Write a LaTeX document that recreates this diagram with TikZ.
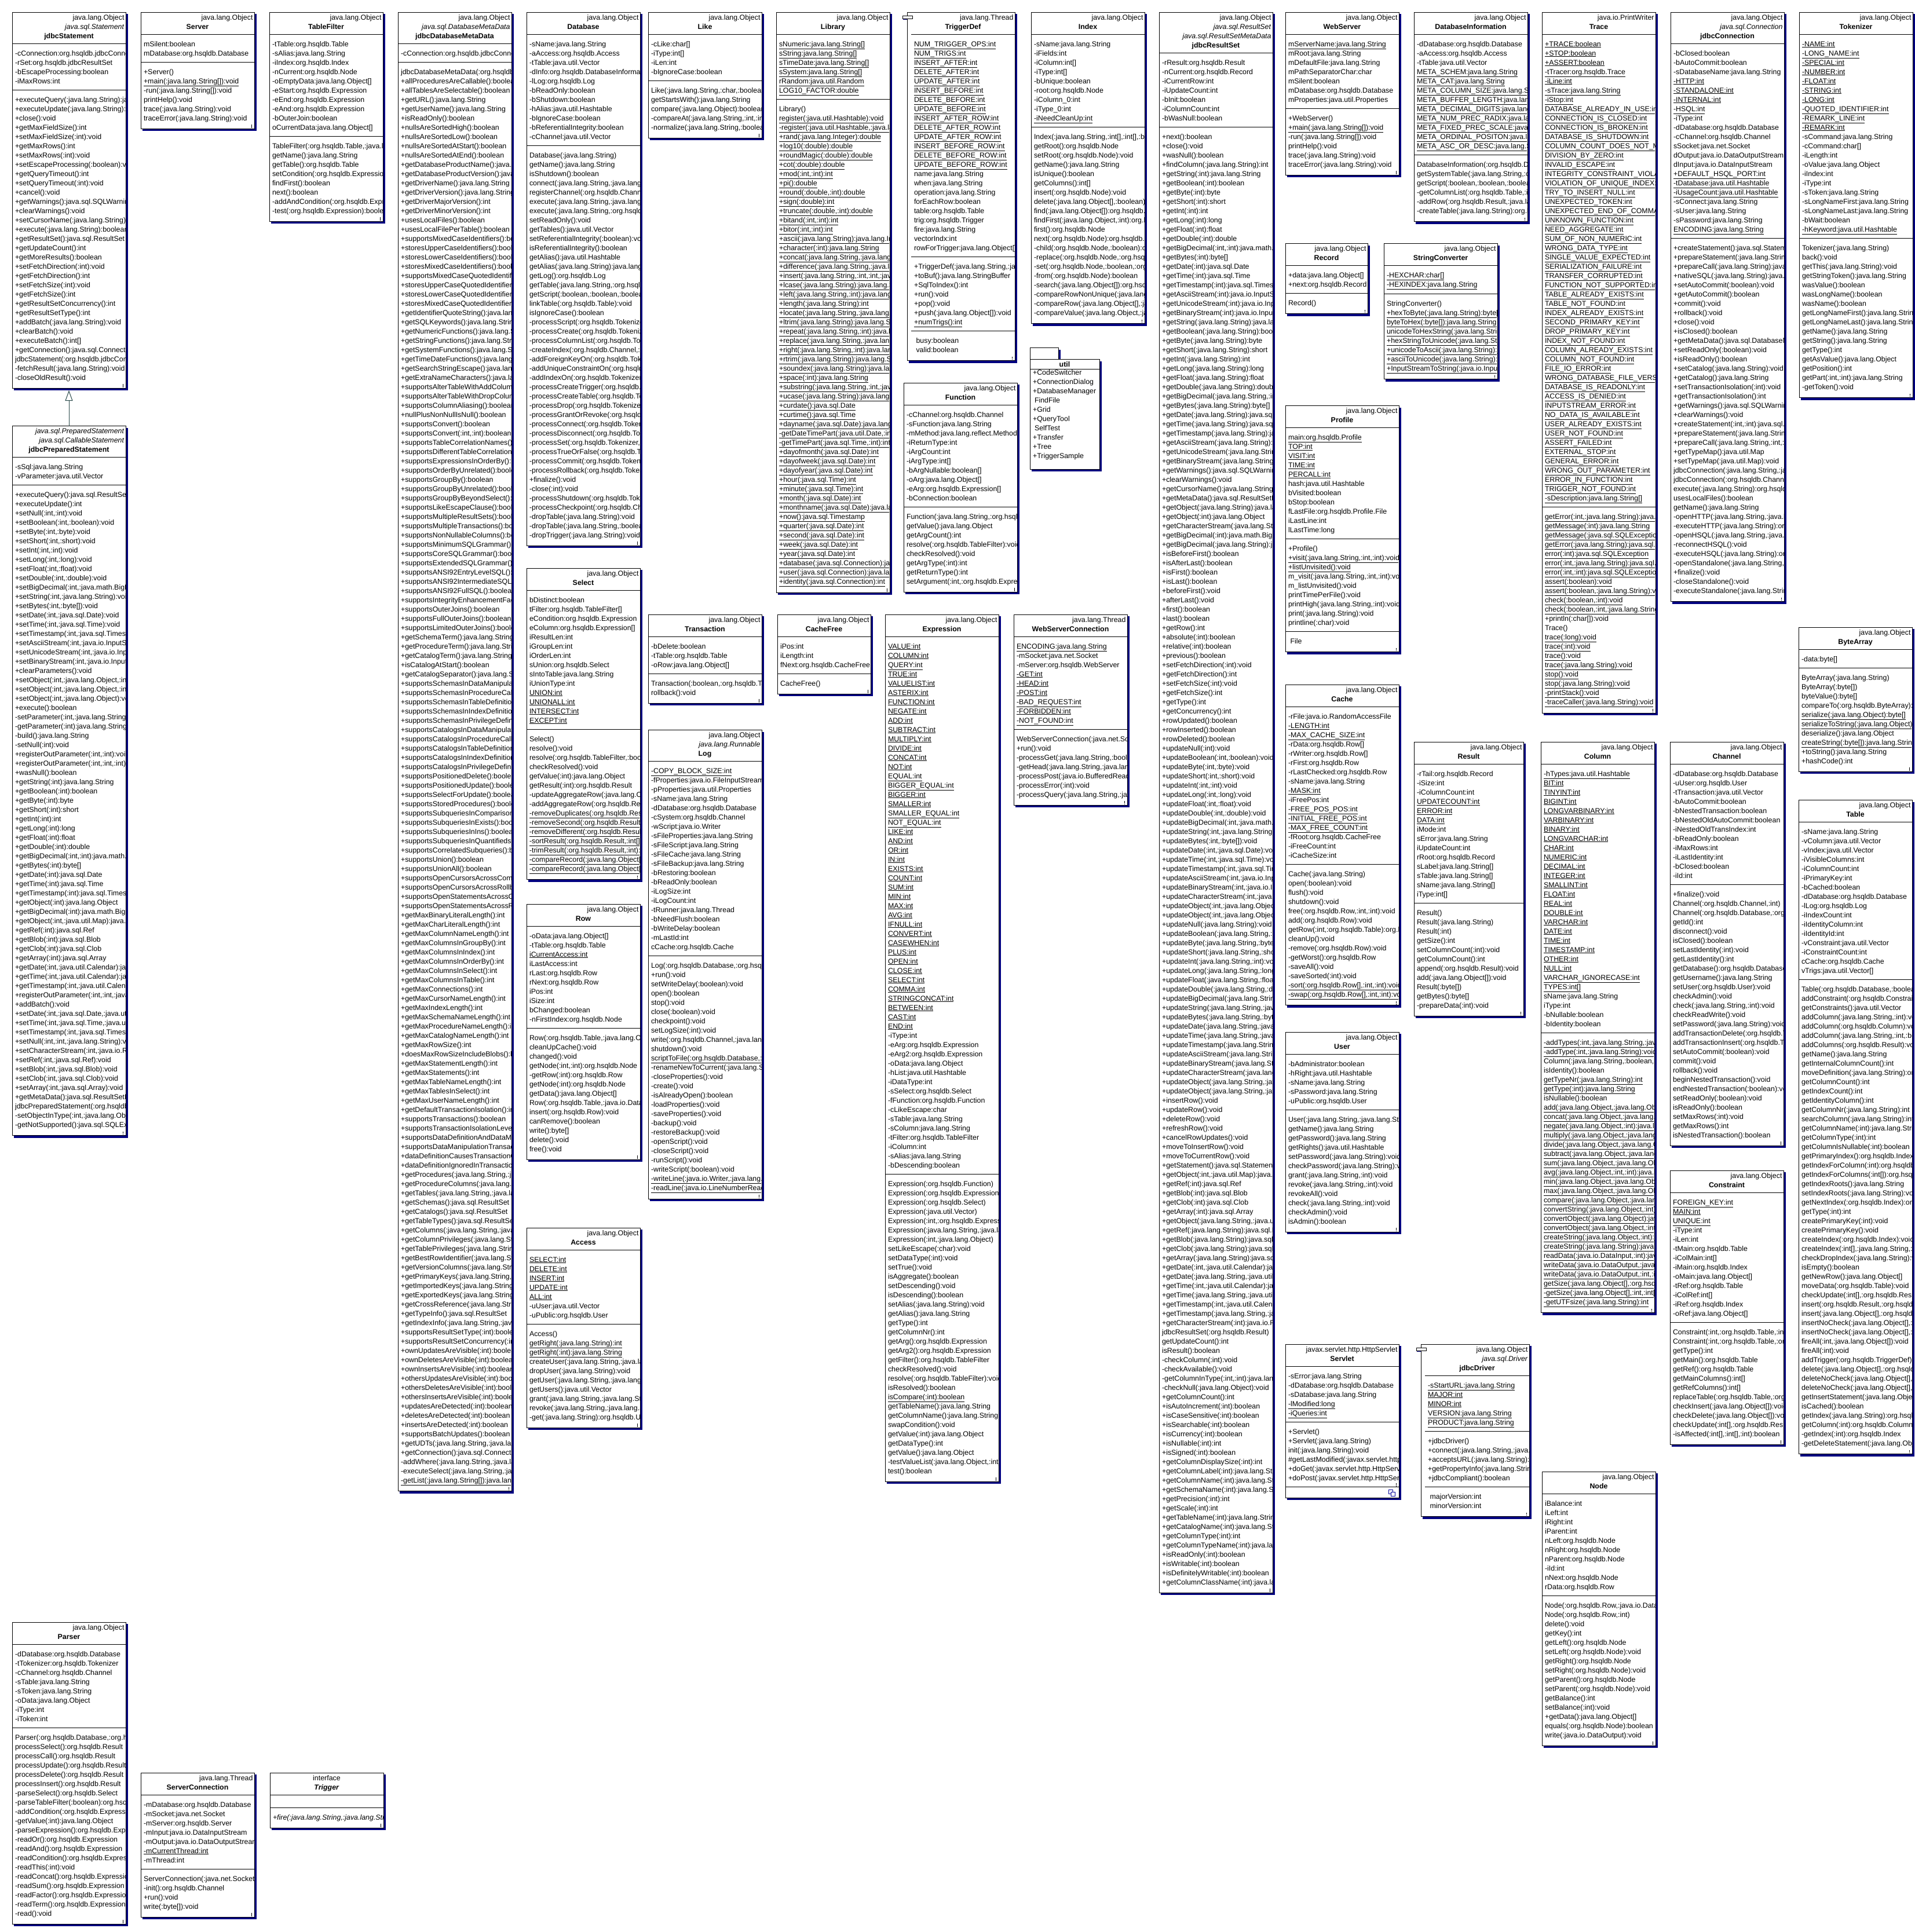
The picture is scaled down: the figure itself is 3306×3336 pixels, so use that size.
\documentclass[tikz,border=0pt]{standalone}
\usepackage{fontspec}
\setmainfont{Liberation Sans}[Ligatures={NoCommon}]
\usetikzlibrary{fit,arrows.meta}
\definecolor{shadowc}{RGB}{0,0,128}
\definecolor{arrowc}{RGB}{40,72,72}
\newcommand\ST{\rule[-4pt]{0pt}{16pt}}
\newcommand\Un[1]{\underline{#1}}
\newcommand\hR[1]{\makebox[\hsize][r]{#1}}
\newcommand\hC[1]{\makebox[\hsize][c]{#1}}
\newcommand\hB[1]{\makebox[\hsize][c]{\textbf{#1}}}
\newcommand\SepIn{0}
\newif\ifbang
\bangtrue
\tikzset{
  txt/.style={inner sep=0pt, outer sep=0pt, align=left, anchor=north west,
    font={\fontsize{12.4}{16}\selectfont\parindent=0pt\lineskiplimit=-100pt\relax},
    execute at begin node=\ST, execute at end node=\ST},
  frame/.style={draw, line width=1pt, inner sep=0pt, outer sep=0pt},
  sepline/.style={line width=1pt},
}
\newcommand\ucls[5]{%
  \xdef\cname{#1}\xdef\cx{#2}\xdef\cy{#3}\xdef\cw{#4}%
  \coordinate (#1-L) at (#2,#3);
  \coordinate (#1-R) at ({#2+#4},#3);
  \pgfmathsetmacro\hw{#4-\SepIn-5}%
  \path (#1-L) ++({(#4+\SepIn)/2},1) node[txt, anchor=north, text width=\hw pt] (#1-hd) {#5};
  \path (#1-hd.south) ++(0,-2) coordinate (#1-cur);
}
\newcommand\msec[1]{%
  \draw[sepline] (\cname-L |- \cname-cur) ++(\SepIn,7) -- ++({\cw-\SepIn},0);
  \begin{scope}
    \clip (\cname-L) ++(0,-60) rectangle ++({\cw-1},3500);
    \path (\cname-L |- \cname-cur) ++({\SepIn+5},16) node[txt, text width=1500pt] (\cname-tmp) {#1};
  \end{scope}
  \path (\cname-tmp.south) coordinate (\cname-cur);
}
\newcommand\msecE[1]{%
  \draw[sepline] (\cname-L |- \cname-cur) ++(\SepIn,7) -- ++({\cw-\SepIn},0);
  \path (\cname-cur) ++(0,#1) coordinate (\cname-cur);
}
\newcommand\cfin{%
  \path (\cname-cur) ++(0,10) coordinate (\cname-B);
  \coordinate (\cname-BR) at (\cname-R |- \cname-B);
  \node[frame, fit=(\cname-L)(\cname-BR)] (\cname) {};
  \fill[shadowc] ([xshift=0.5pt,yshift=-3pt]\cname.north east) rectangle ([xshift=4pt,yshift=-4pt]\cname.south east);
  \fill[shadowc] ([xshift=3pt,yshift=-0.5pt]\cname.south west) rectangle ([xshift=4pt,yshift=-4pt]\cname.south east);
  \ifbang
  \fill ([xshift=-5.5pt,yshift=3.5pt]\cname.south east) rectangle ([xshift=-4pt,yshift=7pt]\cname.south east);
  \fill ([xshift=-5.5pt,yshift=1.3pt]\cname.south east) rectangle ([xshift=-4pt,yshift=2.6pt]\cname.south east);
  \fi
}
\newcommand\acticon[1]{%
  \fill[shadowc] ([xshift=-7pt,yshift=-11pt]#1.north west) rectangle ([xshift=0pt,yshift=-12.5pt]#1.north west);
  \draw[line width=1pt, fill=white] ([xshift=-8pt,yshift=-6pt]#1.north west) rectangle ([xshift=9pt,yshift=-11pt]#1.north west);
}
\begin{document}
\begin{tikzpicture}[x=1pt,y=-1pt]
\useasboundingbox[fill=white] (0,0) rectangle (3306,3336);

% ---------------- column 1
\ucls{jdbcStatement}{21}{21}{196}{\hR{java.lang.Object}\\\hR{\textit{java.sql.Statement}}\\\hB{jdbcStatement}}
\msec{-cConnection:org.hsqldb.jdbcConnection\\-rSet:org.hsqldb.jdbcResultSet\\-bEscapeProcessing:boolean\\-iMaxRows:int}
\msec{+executeQuery(:java.lang.String):java.sql.ResultSet\\+executeUpdate(:java.lang.String):int\\+close():void\\+getMaxFieldSize():int\\+setMaxFieldSize(:int):void\\+getMaxRows():int\\+setMaxRows(:int):void\\+setEscapeProcessing(:boolean):void\\+getQueryTimeout():int\\+setQueryTimeout(:int):void\\+cancel():void\\+getWarnings():java.sql.SQLWarning\\+clearWarnings():void\\+setCursorName(:java.lang.String):void\\+execute(:java.lang.String):boolean\\+getResultSet():java.sql.ResultSet\\+getUpdateCount():int\\+getMoreResults():boolean\\+setFetchDirection(:int):void\\+getFetchDirection():int\\+setFetchSize(:int):void\\+getFetchSize():int\\+getResultSetConcurrency():int\\+getResultSetType():int\\+addBatch(:java.lang.String):void\\+clearBatch():void\\+executeBatch():int[]\\+getConnection():java.sql.Connection\\jdbcStatement(:org.hsqldb.jdbcConnection)\\-fetchResult(:java.lang.String):void\\-closeOldResult():void}
\cfin

\ucls{jdbcPreparedStatement}{21}{735.5}{196}{\hR{\textit{java.sql.PreparedStatement}}\\\hR{\textit{java.sql.CallableStatement}}\\\hB{jdbcPreparedStatement}}
\msec{-sSql:java.lang.String\\-vParameter:java.util.Vector}
\msec{+executeQuery():java.sql.ResultSet\\+executeUpdate():int\\+setNull(:int,:int):void\\+setBoolean(:int,:boolean):void\\+setByte(:int,:byte):void\\+setShort(:int,:short):void\\+setInt(:int,:int):void\\+setLong(:int,:long):void\\+setFloat(:int,:float):void\\+setDouble(:int,:double):void\\+setBigDecimal(:int,:java.math.BigDecimal):void\\+setString(:int,:java.lang.String):void\\+setBytes(:int,:byte[]):void\\+setDate(:int,:java.sql.Date):void\\+setTime(:int,:java.sql.Time):void\\+setTimestamp(:int,:java.sql.Timestamp):void\\+setAsciiStream(:int,:java.io.InputStream,:int):void\\+setUnicodeStream(:int,:java.io.InputStream,:int):void\\+setBinaryStream(:int,:java.io.InputStream,:int):void\\+clearParameters():void\\+setObject(:int,:java.lang.Object,:int,:int):void\\+setObject(:int,:java.lang.Object,:int):void\\+setObject(:int,:java.lang.Object):void\\+execute():boolean\\-setParameter(:int,:java.lang.String):void\\-getParameter(:int):java.lang.String\\-build():java.lang.String\\-setNull(:int):void\\+registerOutParameter(:int,:int):void\\+registerOutParameter(:int,:int,:int):void\\+wasNull():boolean\\+getString(:int):java.lang.String\\+getBoolean(:int):boolean\\+getByte(:int):byte\\+getShort(:int):short\\+getInt(:int):int\\+getLong(:int):long\\+getFloat(:int):float\\+getDouble(:int):double\\+getBigDecimal(:int,:int):java.math.BigDecimal\\+getBytes(:int):byte[]\\+getDate(:int):java.sql.Date\\+getTime(:int):java.sql.Time\\+getTimestamp(:int):java.sql.Timestamp\\+getObject(:int):java.lang.Object\\+getBigDecimal(:int):java.math.BigDecimal\\+getObject(:int,:java.util.Map):java.lang.Object\\+getRef(:int):java.sql.Ref\\+getBlob(:int):java.sql.Blob\\+getClob(:int):java.sql.Clob\\+getArray(:int):java.sql.Array\\+getDate(:int,:java.util.Calendar):java.sql.Date\\+getTime(:int,:java.util.Calendar):java.sql.Time\\+getTimestamp(:int,:java.util.Calendar):java.sql.Timestamp\\+registerOutParameter(:int,:int,:java.lang.String):void\\+addBatch():void\\+setDate(:int,:java.sql.Date,:java.util.Calendar):void\\+setTime(:int,:java.sql.Time,:java.util.Calendar):void\\+setTimestamp(:int,:java.sql.Timestamp,:java.util.Calendar):void\\+setNull(:int,:int,:java.lang.String):void\\+setCharacterStream(:int,:java.io.Reader,:int):void\\+setRef(:int,:java.sql.Ref):void\\+setBlob(:int,:java.sql.Blob):void\\+setClob(:int,:java.sql.Clob):void\\+setArray(:int,:java.sql.Array):void\\+getMetaData():java.sql.ResultSetMetaData\\jdbcPreparedStatement(:org.hsqldb.jdbcConnection,:java.lang.String)\\-setObjectInType(:int,:java.lang.Object,:int):void\\-getNotSupported():java.sql.SQLException}
\cfin

\draw[arrowc, line width=1pt, -{Triangle[open, length=18pt, width=13pt]}] (jdbcPreparedStatement.north) -- ([yshift=-4pt]jdbcStatement.south);

\ucls{Parser}{21}{2801}{196}{\hR{java.lang.Object}\\\hB{Parser}}
\msec{-dDatabase:org.hsqldb.Database\\-tTokenizer:org.hsqldb.Tokenizer\\-cChannel:org.hsqldb.Channel\\-sTable:java.lang.String\\-sToken:java.lang.String\\-oData:java.lang.Object\\-iType:int\\-iToken:int}
\msec{Parser(:org.hsqldb.Database,:org.hsqldb.Tokenizer,:org.hsqldb.Channel)\\processSelect():org.hsqldb.Result\\processCall():org.hsqldb.Result\\processUpdate():org.hsqldb.Result\\processDelete():org.hsqldb.Result\\processInsert():org.hsqldb.Result\\-parseSelect():org.hsqldb.Select\\-parseTableFilter(:boolean):org.hsqldb.TableFilter\\-addCondition(:org.hsqldb.Expression,:org.hsqldb.Expression)\\-getValue(:int):java.lang.Object\\-parseExpression():org.hsqldb.Expression\\-readOr():org.hsqldb.Expression\\-readAnd():org.hsqldb.Expression\\-readCondition():org.hsqldb.Expression\\-readThis(:int):void\\-readConcat():org.hsqldb.Expression\\-readSum():org.hsqldb.Expression\\-readFactor():org.hsqldb.Expression\\-readTerm():org.hsqldb.Expression\\-read():void}
\cfin

% ---------------- column 2
\ucls{Server}{243}{21}{196}{\hR{java.lang.Object}\\\hB{Server}}
\msec{mSilent:boolean\\mDatabase:org.hsqldb.Database}
\msec{+Server()\\\Un{+main(:java.lang.String[]):void}\\-run(:java.lang.String[]):void\\printHelp():void\\trace(:java.lang.String):void\\traceError(:java.lang.String):void}
\cfin

\ucls{ServerConnection}{243}{3061}{196}{\hR{java.lang.Thread}\\\hB{ServerConnection}}
\msec{-mDatabase:org.hsqldb.Database\\-mSocket:java.net.Socket\\-mServer:org.hsqldb.Server\\-mInput:java.io.DataInputStream\\-mOutput:java.io.DataOutputStream\\\Un{-mCurrentThread:int}\\-mThread:int}
\msec{ServerConnection(:java.net.Socket,:org.hsqldb.Server)\\-init():org.hsqldb.Channel\\+run():void\\write(:byte[]):void}
\cfin

% ---------------- column 3
\ucls{TableFilter}{465}{21}{196}{\hR{java.lang.Object}\\\hB{TableFilter}}
\msec{-tTable:org.hsqldb.Table\\-sAlias:java.lang.String\\-iIndex:org.hsqldb.Index\\-nCurrent:org.hsqldb.Node\\-oEmptyData:java.lang.Object[]\\-eStart:org.hsqldb.Expression\\-eEnd:org.hsqldb.Expression\\-eAnd:org.hsqldb.Expression\\-bOuterJoin:boolean\\oCurrentData:java.lang.Object[]}
\msec{TableFilter(:org.hsqldb.Table,:java.lang.String,:boolean)\\getName():java.lang.String\\getTable():org.hsqldb.Table\\setCondition(:org.hsqldb.Expression):void\\findFirst():boolean\\next():boolean\\-addAndCondition(:org.hsqldb.Expression):void\\-test(:org.hsqldb.Expression):boolean}
\cfin

\ucls{Trigger}{466}{3061}{196}{\hC{interface}\\\hC{\textbf{\textit{Trigger}}}}
\msecE{22}
\msec{\textit{+fire(:java.lang.String,:java.lang.String,:java.lang.Object[]):void}}
\cfin

% ---------------- column 4
\ucls{jdbcDatabaseMetaData}{687}{21}{196}{\hR{java.lang.Object}\\\hR{\textit{java.sql.DatabaseMetaData}}\\\hB{jdbcDatabaseMetaData}}
\msec{-cConnection:org.hsqldb.jdbcConnection}
\msec{jdbcDatabaseMetaData(:org.hsqldb.jdbcConnection)\\+allProceduresAreCallable():boolean\\+allTablesAreSelectable():boolean\\+getURL():java.lang.String\\+getUserName():java.lang.String\\+isReadOnly():boolean\\+nullsAreSortedHigh():boolean\\+nullsAreSortedLow():boolean\\+nullsAreSortedAtStart():boolean\\+nullsAreSortedAtEnd():boolean\\+getDatabaseProductName():java.lang.String\\+getDatabaseProductVersion():java.lang.String\\+getDriverName():java.lang.String\\+getDriverVersion():java.lang.String\\+getDriverMajorVersion():int\\+getDriverMinorVersion():int\\+usesLocalFiles():boolean\\+usesLocalFilePerTable():boolean\\+supportsMixedCaseIdentifiers():boolean\\+storesUpperCaseIdentifiers():boolean\\+storesLowerCaseIdentifiers():boolean\\+storesMixedCaseIdentifiers():boolean\\+supportsMixedCaseQuotedIdentifiers():boolean\\+storesUpperCaseQuotedIdentifiers():boolean\\+storesLowerCaseQuotedIdentifiers():boolean\\+storesMixedCaseQuotedIdentifiers():boolean\\+getIdentifierQuoteString():java.lang.String\\+getSQLKeywords():java.lang.String\\+getNumericFunctions():java.lang.String\\+getStringFunctions():java.lang.String\\+getSystemFunctions():java.lang.String\\+getTimeDateFunctions():java.lang.String\\+getSearchStringEscape():java.lang.String\\+getExtraNameCharacters():java.lang.String\\+supportsAlterTableWithAddColumn():boolean\\+supportsAlterTableWithDropColumn():boolean\\+supportsColumnAliasing():boolean\\+nullPlusNonNullIsNull():boolean\\+supportsConvert():boolean\\+supportsConvert(:int,:int):boolean\\+supportsTableCorrelationNames():boolean\\+supportsDifferentTableCorrelationNames():boolean\\+supportsExpressionsInOrderBy():boolean\\+supportsOrderByUnrelated():boolean\\+supportsGroupBy():boolean\\+supportsGroupByUnrelated():boolean\\+supportsGroupByBeyondSelect():boolean\\+supportsLikeEscapeClause():boolean\\+supportsMultipleResultSets():boolean\\+supportsMultipleTransactions():boolean\\+supportsNonNullableColumns():boolean\\+supportsMinimumSQLGrammar():boolean\\+supportsCoreSQLGrammar():boolean\\+supportsExtendedSQLGrammar():boolean\\+supportsANSI92EntryLevelSQL():boolean\\+supportsANSI92IntermediateSQL():boolean\\+supportsANSI92FullSQL():boolean\\+supportsIntegrityEnhancementFacility():boolean\\+supportsOuterJoins():boolean\\+supportsFullOuterJoins():boolean\\+supportsLimitedOuterJoins():boolean\\+getSchemaTerm():java.lang.String\\+getProcedureTerm():java.lang.String\\+getCatalogTerm():java.lang.String\\+isCatalogAtStart():boolean\\+getCatalogSeparator():java.lang.String\\+supportsSchemasInDataManipulation():boolean\\+supportsSchemasInProcedureCalls():boolean\\+supportsSchemasInTableDefinitions():boolean\\+supportsSchemasInIndexDefinitions():boolean\\+supportsSchemasInPrivilegeDefinitions():boolean\\+supportsCatalogsInDataManipulation():boolean\\+supportsCatalogsInProcedureCalls():boolean\\+supportsCatalogsInTableDefinitions():boolean\\+supportsCatalogsInIndexDefinitions():boolean\\+supportsCatalogsInPrivilegeDefinitions():boolean\\+supportsPositionedDelete():boolean\\+supportsPositionedUpdate():boolean\\+supportsSelectForUpdate():boolean\\+supportsStoredProcedures():boolean\\+supportsSubqueriesInComparisons():boolean\\+supportsSubqueriesInExists():boolean\\+supportsSubqueriesInIns():boolean\\+supportsSubqueriesInQuantifieds():boolean\\+supportsCorrelatedSubqueries():boolean\\+supportsUnion():boolean\\+supportsUnionAll():boolean\\+supportsOpenCursorsAcrossCommit():boolean\\+supportsOpenCursorsAcrossRollback():boolean\\+supportsOpenStatementsAcrossCommit():boolean\\+supportsOpenStatementsAcrossRollback():boolean\\+getMaxBinaryLiteralLength():int\\+getMaxCharLiteralLength():int\\+getMaxColumnNameLength():int\\+getMaxColumnsInGroupBy():int\\+getMaxColumnsInIndex():int\\+getMaxColumnsInOrderBy():int\\+getMaxColumnsInSelect():int\\+getMaxColumnsInTable():int\\+getMaxConnections():int\\+getMaxCursorNameLength():int\\+getMaxIndexLength():int\\+getMaxSchemaNameLength():int\\+getMaxProcedureNameLength():int\\+getMaxCatalogNameLength():int\\+getMaxRowSize():int\\+doesMaxRowSizeIncludeBlobs():boolean\\+getMaxStatementLength():int\\+getMaxStatements():int\\+getMaxTableNameLength():int\\+getMaxTablesInSelect():int\\+getMaxUserNameLength():int\\+getDefaultTransactionIsolation():int\\+supportsTransactions():boolean\\+supportsTransactionIsolationLevel(:int):boolean\\+supportsDataDefinitionAndDataManipulationTransactions():boolean\\+supportsDataManipulationTransactionsOnly():boolean\\+dataDefinitionCausesTransactionCommit():boolean\\+dataDefinitionIgnoredInTransactions():boolean\\+getProcedures(:java.lang.String,:java.lang.String,:java.lang.String)\\+getProcedureColumns(:java.lang.String,:java.lang.String)\\+getTables(:java.lang.String,:java.lang.String)\\+getSchemas():java.sql.ResultSet\\+getCatalogs():java.sql.ResultSet\\+getTableTypes():java.sql.ResultSet\\+getColumns(:java.lang.String,:java.lang.String)\\+getColumnPrivileges(:java.lang.String,:java.lang.String)\\+getTablePrivileges(:java.lang.String,:java.lang.String)\\+getBestRowIdentifier(:java.lang.String,:java.lang.String)\\+getVersionColumns(:java.lang.String,:java.lang.String)\\+getPrimaryKeys(:java.lang.String,:java.lang.String)\\+getImportedKeys(:java.lang.String,:java.lang.String)\\+getExportedKeys(:java.lang.String,:java.lang.String)\\+getCrossReference(:java.lang.String,:java.lang.String)\\+getTypeInfo():java.sql.ResultSet\\+getIndexInfo(:java.lang.String,:java.lang.String)\\+supportsResultSetType(:int):boolean\\+supportsResultSetConcurrency(:int,:int):boolean\\+ownUpdatesAreVisible(:int):boolean\\+ownDeletesAreVisible(:int):boolean\\+ownInsertsAreVisible(:int):boolean\\+othersUpdatesAreVisible(:int):boolean\\+othersDeletesAreVisible(:int):boolean\\+othersInsertsAreVisible(:int):boolean\\+updatesAreDetected(:int):boolean\\+deletesAreDetected(:int):boolean\\+insertsAreDetected(:int):boolean\\+supportsBatchUpdates():boolean\\+getUDTs(:java.lang.String,:java.lang.String)\\+getConnection():java.sql.Connection\\-addWhere(:java.lang.String,:java.lang.String)\\-executeSelect(:java.lang.String,:java.lang.String)\\\Un{-getList(:java.lang.String[]):java.lang.String}}
\cfin

% ---------------- column 5
\ucls{Database}{909}{21}{196}{\hR{java.lang.Object}\\\hB{Database}}
\msec{-sName:java.lang.String\\-aAccess:org.hsqldb.Access\\-tTable:java.util.Vector\\-dInfo:org.hsqldb.DatabaseInformation\\-lLog:org.hsqldb.Log\\-bReadOnly:boolean\\-bShutdown:boolean\\-hAlias:java.util.Hashtable\\-bIgnoreCase:boolean\\-bReferentialIntegrity:boolean\\-cChannel:java.util.Vector}
\msec{Database(:java.lang.String)\\getName():java.lang.String\\isShutdown():boolean\\connect(:java.lang.String,:java.lang.String)\\registerChannel(:org.hsqldb.Channel):int\\execute(:java.lang.String,:java.lang.String)\\execute(:java.lang.String,:org.hsqldb.Channel)\\setReadOnly():void\\getTables():java.util.Vector\\setReferentialIntegrity(:boolean):void\\isReferentialIntegrity():boolean\\getAlias():java.util.Hashtable\\getAlias(:java.lang.String):java.lang.String\\getLog():org.hsqldb.Log\\getTable(:java.lang.String,:org.hsqldb.Channel)\\getScript(:boolean,:boolean,:boolean)\\linkTable(:org.hsqldb.Table):void\\isIgnoreCase():boolean\\-processScript(:org.hsqldb.Tokenizer)\\-processCreate(:org.hsqldb.Tokenizer)\\-processColumnList(:org.hsqldb.Tokenizer)\\-createIndex(:org.hsqldb.Channel,:org.hsqldb)\\-addForeignKeyOn(:org.hsqldb.Tokenizer)\\-addUniqueConstraintOn(:org.hsqldb.Tokenizer)\\-addIndexOn(:org.hsqldb.Tokenizer)\\-processCreateTrigger(:org.hsqldb.Tokenizer)\\-processCreateTable(:org.hsqldb.Tokenizer)\\-processDrop(:org.hsqldb.Tokenizer)\\-processGrantOrRevoke(:org.hsqldb.Tokenizer)\\-processConnect(:org.hsqldb.Tokenizer)\\-processDisconnect(:org.hsqldb.Tokenizer)\\-processSet(:org.hsqldb.Tokenizer,:org.hsqldb)\\-processTrueOrFalse(:org.hsqldb.Tokenizer)\\-processCommit(:org.hsqldb.Tokenizer)\\-processRollback(:org.hsqldb.Tokenizer)\\+finalize():void\\-close(:int):void\\-processShutdown(:org.hsqldb.Tokenizer)\\-processCheckpoint(:org.hsqldb.Channel)\\-dropTable(:java.lang.String):void\\-dropTable(:java.lang.String,:boolean):void\\-dropTrigger(:java.lang.String):void}
\cfin

\ucls{Select}{909}{981}{196}{\hR{java.lang.Object}\\\hB{Select}}
\msec{bDistinct:boolean\\tFilter:org.hsqldb.TableFilter[]\\eCondition:org.hsqldb.Expression\\eColumn:org.hsqldb.Expression[]\\iResultLen:int\\iGroupLen:int\\iOrderLen:int\\sUnion:org.hsqldb.Select\\sIntoTable:java.lang.String\\iUnionType:int\\\Un{UNION:int}\\\Un{UNIONALL:int}\\\Un{INTERSECT:int}\\\Un{EXCEPT:int}}
\msec{Select()\\resolve():void\\resolve(:org.hsqldb.TableFilter,:boolean):void\\checkResolved():void\\getValue(:int):java.lang.Object\\getResult(:int):org.hsqldb.Result\\-updateAggregateRow(:java.lang.Object[],:java.lang.Object[])\\-addAggregateRow(:org.hsqldb.Result,:java.lang.Object[])\\\Un{-removeDuplicates(:org.hsqldb.Result):void}\\\Un{-removeSecond(:org.hsqldb.Result,:org.hsqldb.Result)}\\\Un{-removeDifferent(:org.hsqldb.Result,:org.hsqldb.Result)}\\\Un{-sortResult(:org.hsqldb.Result,:int[],:int[])}\\\Un{-trimResult(:org.hsqldb.Result,:int):void}\\\Un{-compareRecord(:java.lang.Object[],:java.lang.Object[])}\\\Un{-compareRecord(:java.lang.Object[],:java.lang.Object[])}}
\cfin

\ucls{Row}{909}{1561}{196}{\hR{java.lang.Object}\\\hB{Row}}
\msec{-oData:java.lang.Object[]\\-tTable:org.hsqldb.Table\\\Un{iCurrentAccess:int}\\iLastAccess:int\\rLast:org.hsqldb.Row\\rNext:org.hsqldb.Row\\iPos:int\\iSize:int\\bChanged:boolean\\-nFirstIndex:org.hsqldb.Node}
\msec{Row(:org.hsqldb.Table,:java.lang.Object[])\\cleanUpCache():void\\changed():void\\getNode(:int,:int):org.hsqldb.Node\\-getRow(:int):org.hsqldb.Row\\getNode(:int):org.hsqldb.Node\\getData():java.lang.Object[]\\Row(:org.hsqldb.Table,:java.io.DataInput)\\insert(:org.hsqldb.Row):void\\canRemove():boolean\\write():byte[]\\delete():void\\free():void}
\cfin

\ucls{Access}{909}{2120}{196}{\hR{java.lang.Object}\\\hB{Access}}
\msec{\Un{SELECT:int}\\\Un{DELETE:int}\\\Un{INSERT:int}\\\Un{UPDATE:int}\\\Un{ALL:int}\\-uUser:java.util.Vector\\-uPublic:org.hsqldb.User}
\msec{Access()\\\Un{getRight(:java.lang.String):int}\\\Un{getRight(:int):java.lang.String}\\createUser(:java.lang.String,:java.lang.String,:boolean)\\dropUser(:java.lang.String):void\\getUser(:java.lang.String,:java.lang.String)\\getUsers():java.util.Vector\\grant(:java.lang.String,:java.lang.String,:int)\\revoke(:java.lang.String,:java.lang.String,:int)\\-get(:java.lang.String):org.hsqldb.User}
\cfin

% ---------------- column 6
\ucls{Like}{1119}{21}{196}{\hR{java.lang.Object}\\\hB{Like}}
\msec{-cLike:char[]\\-iType:int[]\\-iLen:int\\-bIgnoreCase:boolean}
\msec{Like(:java.lang.String,:char,:boolean)\\getStartsWith():java.lang.String\\compare(:java.lang.Object):boolean\\-compareAt(:java.lang.String,:int,:int):boolean\\-normalize(:java.lang.String,:boolean):java.lang.String}
\cfin

\ucls{Transaction}{1119}{1061}{196}{\hR{java.lang.Object}\\\hB{Transaction}}
\msec{-bDelete:boolean\\-tTable:org.hsqldb.Table\\-oRow:java.lang.Object[]}
\msec{Transaction(:boolean,:org.hsqldb.Table,:java.lang.Object[])\\rollback():void}
\cfin

\ucls{Log}{1119}{1260.6}{196}{\hR{java.lang.Object}\\\hR{\textit{java.lang.Runnable}}\\\hB{Log}}
\msec{\Un{-COPY\_BLOCK\_SIZE:int}\\-fProperties:java.io.FileInputStream\\-pProperties:java.util.Properties\\-sName:java.lang.String\\-dDatabase:org.hsqldb.Database\\-cSystem:org.hsqldb.Channel\\-wScript:java.io.Writer\\-sFileProperties:java.lang.String\\-sFileScript:java.lang.String\\-sFileCache:java.lang.String\\-sFileBackup:java.lang.String\\-bRestoring:boolean\\-bReadOnly:boolean\\-iLogSize:int\\-iLogCount:int\\-tRunner:java.lang.Thread\\-bNeedFlush:boolean\\-bWriteDelay:boolean\\-mLastId:int\\cCache:org.hsqldb.Cache}
\msec{Log(:org.hsqldb.Database,:org.hsqldb.Channel)\\+run():void\\setWriteDelay(:boolean):void\\open():boolean\\stop():void\\close(:boolean):void\\checkpoint():void\\setLogSize(:int):void\\write(:org.hsqldb.Channel,:java.lang.String):void\\shutdown():void\\\Un{scriptToFile(:org.hsqldb.Database,:java.lang.String)}\\-renameNewToCurrent(:java.lang.String):void\\-closeProperties():void\\-create():void\\-isAlreadyOpen():boolean\\-loadProperties():void\\-saveProperties():void\\-backup():void\\-restoreBackup():void\\-openScript():void\\-closeScript():void\\-runScript():void\\-writeScript(:boolean):void\\\Un{-writeLine(:java.io.Writer,:java.lang.String):void}\\\Un{-readLine(:java.io.LineNumberReader):java.lang.String}}
\cfin

% ---------------- column 7
\ucls{Library}{1340}{21}{196}{\hR{java.lang.Object}\\\hB{Library}}
\msec{\Un{sNumeric:java.lang.String[]}\\\Un{sString:java.lang.String[]}\\\Un{sTimeDate:java.lang.String[]}\\\Un{sSystem:java.lang.String[]}\\\Un{rRandom:java.util.Random}\\\Un{LOG10\_FACTOR:double}}
\msec{Library()\\\Un{register(:java.util.Hashtable):void}\\\Un{-register(:java.util.Hashtable,:java.lang.String[]):void}\\\Un{+rand(:java.lang.Integer):double}\\\Un{+log10(:double):double}\\\Un{+roundMagic(:double):double}\\\Un{+cot(:double):double}\\\Un{+mod(:int,:int):int}\\\Un{+pi():double}\\\Un{+round(:double,:int):double}\\\Un{+sign(:double):int}\\\Un{+truncate(:double,:int):double}\\\Un{+bitand(:int,:int):int}\\\Un{+bitor(:int,:int):int}\\\Un{+ascii(:java.lang.String):java.lang.Integer}\\\Un{+character(:int):java.lang.String}\\\Un{+concat(:java.lang.String,:java.lang.String):java.lang.String}\\\Un{+difference(:java.lang.String,:java.lang.String):int}\\\Un{+insert(:java.lang.String,:int,:int,:java.lang.String)}\\\Un{+lcase(:java.lang.String):java.lang.String}\\\Un{+left(:java.lang.String,:int):java.lang.String}\\\Un{+length(:java.lang.String):int}\\\Un{+locate(:java.lang.String,:java.lang.String,:int)}\\\Un{+ltrim(:java.lang.String):java.lang.String}\\\Un{+repeat(:java.lang.String,:int):java.lang.String}\\\Un{+replace(:java.lang.String,:java.lang.String,:java.lang.String)}\\\Un{+right(:java.lang.String,:int):java.lang.String}\\\Un{+rtrim(:java.lang.String):java.lang.String}\\\Un{+soundex(:java.lang.String):java.lang.String}\\\Un{+space(:int):java.lang.String}\\\Un{+substring(:java.lang.String,:int,:java.lang.Integer)}\\\Un{+ucase(:java.lang.String):java.lang.String}\\\Un{+curdate():java.sql.Date}\\\Un{+curtime():java.sql.Time}\\\Un{+dayname(:java.sql.Date):java.lang.String}\\\Un{-getDateTimePart(:java.util.Date,:int):int}\\\Un{-getTimePart(:java.sql.Time,:int):int}\\\Un{+dayofmonth(:java.sql.Date):int}\\\Un{+dayofweek(:java.sql.Date):int}\\\Un{+dayofyear(:java.sql.Date):int}\\\Un{+hour(:java.sql.Time):int}\\\Un{+minute(:java.sql.Time):int}\\\Un{+month(:java.sql.Date):int}\\\Un{+monthname(:java.sql.Date):java.lang.String}\\\Un{+now():java.sql.Timestamp}\\\Un{+quarter(:java.sql.Date):int}\\\Un{+second(:java.sql.Date):int}\\\Un{+week(:java.sql.Date):int}\\\Un{+year(:java.sql.Date):int}\\\Un{+database(:java.sql.Connection):java.lang.String}\\\Un{+user(:java.sql.Connection):java.lang.String}\\\Un{+identity(:java.sql.Connection):int}}
\cfin

\ucls{CacheFree}{1342}{1061}{161}{\hR{java.lang.Object}\\\hB{CacheFree}}
\msec{iPos:int\\iLength:int\\fNext:org.hsqldb.CacheFree}
\msec{CacheFree()}
\cfin

% ---------------- column 8
\renewcommand\SepIn{7}
\ucls{TriggerDef}{1566}{21}{186}{\hR{java.lang.Thread}\\\hB{TriggerDef}}
\msec{\Un{NUM\_TRIGGER\_OPS:int}\\\Un{NUM\_TRIGS:int}\\\Un{INSERT\_AFTER:int}\\\Un{DELETE\_AFTER:int}\\\Un{UPDATE\_AFTER:int}\\\Un{INSERT\_BEFORE:int}\\\Un{DELETE\_BEFORE:int}\\\Un{UPDATE\_BEFORE:int}\\\Un{INSERT\_AFTER\_ROW:int}\\\Un{DELETE\_AFTER\_ROW:int}\\\Un{UPDATE\_AFTER\_ROW:int}\\\Un{INSERT\_BEFORE\_ROW:int}\\\Un{DELETE\_BEFORE\_ROW:int}\\\Un{UPDATE\_BEFORE\_ROW:int}\\name:java.lang.String\\when:java.lang.String\\operation:java.lang.String\\forEachRow:boolean\\table:org.hsqldb.Table\\trig:org.hsqldb.Trigger\\fire:java.lang.String\\vectorIndx:int\\rowForTrigger:java.lang.Object[]}
\msec{+TriggerDef(:java.lang.String,:java.lang.String)\\+toBuf():java.lang.StringBuffer\\+SqlToIndex():int\\+run():void\\+pop():void\\+push(:java.lang.Object[]):void\\\Un{+numTrigs():int}}
\msec{\hspace*{3.5pt}busy:boolean\\\hspace*{3.5pt}valid:boolean}
\cfin
\acticon{TriggerDef}
\renewcommand\SepIn{0}

\ucls{Function}{1560}{661}{196}{\hR{java.lang.Object}\\\hB{Function}}
\msec{-cChannel:org.hsqldb.Channel\\-sFunction:java.lang.String\\-mMethod:java.lang.reflect.Method\\-iReturnType:int\\-iArgCount:int\\-iArgType:int[]\\-bArgNullable:boolean[]\\-oArg:java.lang.Object[]\\-eArg:org.hsqldb.Expression[]\\-bConnection:boolean}
\msec{Function(:java.lang.String,:org.hsqldb.Channel)\\getValue():java.lang.Object\\getArgCount():int\\resolve(:org.hsqldb.TableFilter):void\\checkResolved():void\\getArgType(:int):int\\getReturnType():int\\setArgument(:int,:org.hsqldb.Expression):void}
\cfin

\ucls{Expression}{1528}{1061}{196}{\hR{java.lang.Object}\\\hB{Expression}}
\msec{\Un{VALUE:int}\\\Un{COLUMN:int}\\\Un{QUERY:int}\\\Un{TRUE:int}\\\Un{VALUELIST:int}\\\Un{ASTERIX:int}\\\Un{FUNCTION:int}\\\Un{NEGATE:int}\\\Un{ADD:int}\\\Un{SUBTRACT:int}\\\Un{MULTIPLY:int}\\\Un{DIVIDE:int}\\\Un{CONCAT:int}\\\Un{NOT:int}\\\Un{EQUAL:int}\\\Un{BIGGER\_EQUAL:int}\\\Un{BIGGER:int}\\\Un{SMALLER:int}\\\Un{SMALLER\_EQUAL:int}\\\Un{NOT\_EQUAL:int}\\\Un{LIKE:int}\\\Un{AND:int}\\\Un{OR:int}\\\Un{IN:int}\\\Un{EXISTS:int}\\\Un{COUNT:int}\\\Un{SUM:int}\\\Un{MIN:int}\\\Un{MAX:int}\\\Un{AVG:int}\\\Un{IFNULL:int}\\\Un{CONVERT:int}\\\Un{CASEWHEN:int}\\\Un{PLUS:int}\\\Un{OPEN:int}\\\Un{CLOSE:int}\\\Un{SELECT:int}\\\Un{COMMA:int}\\\Un{STRINGCONCAT:int}\\\Un{BETWEEN:int}\\\Un{CAST:int}\\\Un{END:int}\\-iType:int\\-eArg:org.hsqldb.Expression\\-eArg2:org.hsqldb.Expression\\-oData:java.lang.Object\\-hList:java.util.Hashtable\\-iDataType:int\\-sSelect:org.hsqldb.Select\\-fFunction:org.hsqldb.Function\\-cLikeEscape:char\\-sTable:java.lang.String\\-sColumn:java.lang.String\\-tFilter:org.hsqldb.TableFilter\\-iColumn:int\\-sAlias:java.lang.String\\-bDescending:boolean}
\msec{Expression(:org.hsqldb.Function)\\Expression(:org.hsqldb.Expression)\\Expression(:org.hsqldb.Select)\\Expression(:java.util.Vector)\\Expression(:int,:org.hsqldb.Expression,:org.hsqldb.Expression)\\Expression(:java.lang.String,:java.lang.String)\\Expression(:int,:java.lang.Object)\\setLikeEscape(:char):void\\setDataType(:int):void\\setTrue():void\\isAggregate():boolean\\setDescending():void\\isDescending():boolean\\setAlias(:java.lang.String):void\\getAlias():java.lang.String\\getType():int\\getColumnNr():int\\getArg():org.hsqldb.Expression\\getArg2():org.hsqldb.Expression\\getFilter():org.hsqldb.TableFilter\\checkResolved():void\\resolve(:org.hsqldb.TableFilter):void\\isResolved():boolean\\\Un{isCompare(:int):boolean}\\getTableName():java.lang.String\\getColumnName():java.lang.String\\swapCondition():void\\getValue(:int):java.lang.Object\\getDataType():int\\getValue():java.lang.Object\\-testValueList(:java.lang.Object,:int):boolean\\test():boolean}
\cfin

% ---------------- column 9
\ucls{Index}{1780}{21}{196}{\hR{java.lang.Object}\\\hB{Index}}
\msec{-sName:java.lang.String\\-iFields:int\\-iColumn:int[]\\-iType:int[]\\-bUnique:boolean\\-root:org.hsqldb.Node\\-iColumn\_0:int\\-iType\_0:int\\\Un{-iNeedCleanUp:int}}
\msec{Index(:java.lang.String,:int[],:int[],:boolean)\\getRoot():org.hsqldb.Node\\setRoot(:org.hsqldb.Node):void\\getName():java.lang.String\\isUnique():boolean\\getColumns():int[]\\insert(:org.hsqldb.Node):void\\delete(:java.lang.Object[],:boolean):void\\find(:java.lang.Object[]):org.hsqldb.Node\\findFirst(:java.lang.Object,:int):org.hsqldb.Node\\first():org.hsqldb.Node\\next(:org.hsqldb.Node):org.hsqldb.Node\\-child(:org.hsqldb.Node,:boolean):org.hsqldb.Node\\-replace(:org.hsqldb.Node,:org.hsqldb.Node):void\\-set(:org.hsqldb.Node,:boolean,:org.hsqldb.Node)\\-from(:org.hsqldb.Node):boolean\\-search(:java.lang.Object[]):org.hsqldb.Node\\-compareRowNonUnique(:java.lang.Object[],:java.lang.Object[])\\-compareRow(:java.lang.Object[],:java.lang.Object[]):int\\-compareValue(:java.lang.Object,:java.lang.Object):int}
\cfin

% util package
\node[frame, fill=white, minimum width=49pt, minimum height=20pt, anchor=south west] (util-tab) at (1778,620.7) {};
\fill[shadowc] ([xshift=0.5pt,yshift=-3pt]util-tab.north east) rectangle ([xshift=4pt]util-tab.south east);
\node[frame, minimum width=120pt, minimum height=189.3pt, anchor=north west] (util) at (1778,620.7) {};
\fill[shadowc] ([xshift=0.5pt,yshift=-3pt]util.north east) rectangle ([xshift=4pt,yshift=-4pt]util.south east);
\fill[shadowc] ([xshift=3pt,yshift=-0.5pt]util.south west) rectangle ([xshift=4pt,yshift=-4pt]util.south east);
\node[txt, anchor=north] (util-title) at (1838,621) {\textbf{util}};
\draw[sepline] (util.west |- util-title.south) -- (util.east |- util-title.south);
\node[txt] (util-items) at (1783,639) {+CodeSwitcher\\+ConnectionDialog\\+DatabaseManager\\\hspace*{3pt}FindFile\\+Grid\\+QueryTool\\\hspace*{3pt}SelfTest\\+Transfer\\+Tree\\+TriggerSample};

\ucls{WebServerConnection}{1750}{1061}{196}{\hR{java.lang.Thread}\\\hB{WebServerConnection}}
\msec{\Un{ENCODING:java.lang.String}\\-mSocket:java.net.Socket\\-mServer:org.hsqldb.WebServer\\\Un{-GET:int}\\\Un{-HEAD:int}\\\Un{-POST:int}\\\Un{-BAD\_REQUEST:int}\\\Un{-FORBIDDEN:int}\\\Un{-NOT\_FOUND:int}}
\msec{WebServerConnection(:java.net.Socket,:org.hsqldb.WebServer)\\+run():void\\-processGet(:java.lang.String,:boolean):void\\-getHead(:java.lang.String,:java.lang.String,:int)\\-processPost(:java.io.BufferedReader,:java.lang.String)\\-processError(:int):void\\-processQuery(:java.lang.String,:java.io.OutputStream)}
\cfin

% ---------------- column 10
\ucls{jdbcResultSet}{2001}{21}{196}{\hR{java.lang.Object}\\\hR{\textit{java.sql.ResultSet}}\\\hR{\textit{java.sql.ResultSetMetaData}}\\\hB{jdbcResultSet}}
\msec{-rResult:org.hsqldb.Result\\-nCurrent:org.hsqldb.Record\\-iCurrentRow:int\\-iUpdateCount:int\\-bInit:boolean\\-iColumnCount:int\\-bWasNull:boolean}
\msec{+next():boolean\\+close():void\\+wasNull():boolean\\+findColumn(:java.lang.String):int\\+getString(:int):java.lang.String\\+getBoolean(:int):boolean\\+getByte(:int):byte\\+getShort(:int):short\\+getInt(:int):int\\+getLong(:int):long\\+getFloat(:int):float\\+getDouble(:int):double\\+getBigDecimal(:int,:int):java.math.BigDecimal\\+getBytes(:int):byte[]\\+getDate(:int):java.sql.Date\\+getTime(:int):java.sql.Time\\+getTimestamp(:int):java.sql.Timestamp\\+getAsciiStream(:int):java.io.InputStream\\+getUnicodeStream(:int):java.io.InputStream\\+getBinaryStream(:int):java.io.InputStream\\+getString(:java.lang.String):java.lang.String\\+getBoolean(:java.lang.String):boolean\\+getByte(:java.lang.String):byte\\+getShort(:java.lang.String):short\\+getInt(:java.lang.String):int\\+getLong(:java.lang.String):long\\+getFloat(:java.lang.String):float\\+getDouble(:java.lang.String):double\\+getBigDecimal(:java.lang.String,:int)\\+getBytes(:java.lang.String):byte[]\\+getDate(:java.lang.String):java.sql.Date\\+getTime(:java.lang.String):java.sql.Time\\+getTimestamp(:java.lang.String):java.sql.Timestamp\\+getAsciiStream(:java.lang.String):java.io.InputStream\\+getUnicodeStream(:java.lang.String):java.io.InputStream\\+getBinaryStream(:java.lang.String):java.io.InputStream\\+getWarnings():java.sql.SQLWarning\\+clearWarnings():void\\+getCursorName():java.lang.String\\+getMetaData():java.sql.ResultSetMetaData\\+getObject(:java.lang.String):java.lang.Object\\+getObject(:int):java.lang.Object\\+getCharacterStream(:java.lang.String):java.io.Reader\\+getBigDecimal(:int):java.math.BigDecimal\\+getBigDecimal(:java.lang.String):java.math.BigDecimal\\+isBeforeFirst():boolean\\+isAfterLast():boolean\\+isFirst():boolean\\+isLast():boolean\\+beforeFirst():void\\+afterLast():void\\+first():boolean\\+last():boolean\\+getRow():int\\+absolute(:int):boolean\\+relative(:int):boolean\\+previous():boolean\\+setFetchDirection(:int):void\\+getFetchDirection():int\\+setFetchSize(:int):void\\+getFetchSize():int\\+getType():int\\+getConcurrency():int\\+rowUpdated():boolean\\+rowInserted():boolean\\+rowDeleted():boolean\\+updateNull(:int):void\\+updateBoolean(:int,:boolean):void\\+updateByte(:int,:byte):void\\+updateShort(:int,:short):void\\+updateInt(:int,:int):void\\+updateLong(:int,:long):void\\+updateFloat(:int,:float):void\\+updateDouble(:int,:double):void\\+updateBigDecimal(:int,:java.math.BigDecimal):void\\+updateString(:int,:java.lang.String):void\\+updateBytes(:int,:byte[]):void\\+updateDate(:int,:java.sql.Date):void\\+updateTime(:int,:java.sql.Time):void\\+updateTimestamp(:int,:java.sql.Timestamp):void\\+updateAsciiStream(:int,:java.io.InputStream,:int)\\+updateBinaryStream(:int,:java.io.InputStream,:int)\\+updateCharacterStream(:int,:java.io.Reader,:int)\\+updateObject(:int,:java.lang.Object,:int):void\\+updateObject(:int,:java.lang.Object):void\\+updateNull(:java.lang.String):void\\+updateBoolean(:java.lang.String,:boolean):void\\+updateByte(:java.lang.String,:byte):void\\+updateShort(:java.lang.String,:short):void\\+updateInt(:java.lang.String,:int):void\\+updateLong(:java.lang.String,:long):void\\+updateFloat(:java.lang.String,:float):void\\+updateDouble(:java.lang.String,:double):void\\+updateBigDecimal(:java.lang.String,:java.math.BigDecimal)\\+updateString(:java.lang.String,:java.lang.String)\\+updateBytes(:java.lang.String,:byte[]):void\\+updateDate(:java.lang.String,:java.sql.Date):void\\+updateTime(:java.lang.String,:java.sql.Time):void\\+updateTimestamp(:java.lang.String,:java.sql.Timestamp)\\+updateAsciiStream(:java.lang.String,:java.io.InputStream)\\+updateBinaryStream(:java.lang.String,:java.io.InputStream)\\+updateCharacterStream(:java.lang.String,:java.io.Reader)\\+updateObject(:java.lang.String,:java.lang.Object,:int)\\+updateObject(:java.lang.String,:java.lang.Object)\\+insertRow():void\\+updateRow():void\\+deleteRow():void\\+refreshRow():void\\+cancelRowUpdates():void\\+moveToInsertRow():void\\+moveToCurrentRow():void\\+getStatement():java.sql.Statement\\+getObject(:int,:java.util.Map):java.lang.Object\\+getRef(:int):java.sql.Ref\\+getBlob(:int):java.sql.Blob\\+getClob(:int):java.sql.Clob\\+getArray(:int):java.sql.Array\\+getObject(:java.lang.String,:java.util.Map)\\+getRef(:java.lang.String):java.sql.Ref\\+getBlob(:java.lang.String):java.sql.Blob\\+getClob(:java.lang.String):java.sql.Clob\\+getArray(:java.lang.String):java.sql.Array\\+getDate(:int,:java.util.Calendar):java.sql.Date\\+getDate(:java.lang.String,:java.util.Calendar)\\+getTime(:int,:java.util.Calendar):java.sql.Time\\+getTime(:java.lang.String,:java.util.Calendar)\\+getTimestamp(:int,:java.util.Calendar)\\+getTimestamp(:java.lang.String,:java.util.Calendar)\\+getCharacterStream(:int):java.io.Reader\\jdbcResultSet(:org.hsqldb.Result)\\getUpdateCount():int\\isResult():boolean\\-checkColumn(:int):void\\-checkAvailable():void\\-getColumnInType(:int,:int):java.lang.Object\\-checkNull(:java.lang.Object):void\\+getColumnCount():int\\+isAutoIncrement(:int):boolean\\+isCaseSensitive(:int):boolean\\+isSearchable(:int):boolean\\+isCurrency(:int):boolean\\+isNullable(:int):int\\+isSigned(:int):boolean\\+getColumnDisplaySize(:int):int\\+getColumnLabel(:int):java.lang.String\\+getColumnName(:int):java.lang.String\\+getSchemaName(:int):java.lang.String\\+getPrecision(:int):int\\+getScale(:int):int\\+getTableName(:int):java.lang.String\\+getCatalogName(:int):java.lang.String\\+getColumnType(:int):int\\+getColumnTypeName(:int):java.lang.String\\+isReadOnly(:int):boolean\\+isWritable(:int):boolean\\+isDefinitelyWritable(:int):boolean\\+getColumnClassName(:int):java.lang.String}
\cfin

% ---------------- column 11
\ucls{WebServer}{2219}{21}{196}{\hR{java.lang.Object}\\\hB{WebServer}}
\msec{\Un{mServerName:java.lang.String}\\mRoot:java.lang.String\\mDefaultFile:java.lang.String\\mPathSeparatorChar:char\\mSilent:boolean\\mDatabase:org.hsqldb.Database\\mProperties:java.util.Properties}
\msec{+WebServer()\\\Un{+main(:java.lang.String[]):void}\\-run(:java.lang.String[]):void\\printHelp():void\\trace(:java.lang.String):void\\traceError(:java.lang.String):void}
\cfin

\ucls{Record}{2219}{420.6}{142}{\hR{java.lang.Object}\\\hB{Record}}
\msec{+data:java.lang.Object[]\\+next:org.hsqldb.Record}
\msec{Record()}
\cfin

\ucls{Profile}{2219}{700.7}{196}{\hR{java.lang.Object}\\\hB{Profile}}
\msec{\Un{main:org.hsqldb.Profile}\\\Un{TOP:int}\\\Un{VISIT:int}\\\Un{TIME:int}\\\Un{PERCALL:int}\\hash:java.util.Hashtable\\bVisited:boolean\\bStop:boolean\\fLastFile:org.hsqldb.Profile.File\\iLastLine:int\\lLastTime:long}
\msec{+Profile()\\\Un{+visit(:java.lang.String,:int,:int):void}\\\Un{+listUnvisited():void}\\m\_visit(:java.lang.String,:int,:int):void\\m\_listUnvisited():void\\printTimePerFile():void\\printHigh(:java.lang.String,:int):void\\print(:java.lang.String):void\\printline(:char):void}
\msec{\hspace*{3.5pt}File}
\cfin

\ucls{Cache}{2219}{1182.4}{196}{\hR{java.lang.Object}\\\hB{Cache}}
\msec{-rFile:java.io.RandomAccessFile\\\Un{-LENGTH:int}\\\Un{-MAX\_CACHE\_SIZE:int}\\-rData:org.hsqldb.Row[]\\-rWriter:org.hsqldb.Row[]\\-rFirst:org.hsqldb.Row\\-rLastChecked:org.hsqldb.Row\\-sName:java.lang.String\\\Un{-MASK:int}\\-iFreePos:int\\\Un{-FREE\_POS\_POS:int}\\\Un{-INITIAL\_FREE\_POS:int}\\\Un{-MAX\_FREE\_COUNT:int}\\-fRoot:org.hsqldb.CacheFree\\-iFreeCount:int\\-iCacheSize:int}
\msec{Cache(:java.lang.String)\\open(:boolean):void\\flush():void\\shutdown():void\\free(:org.hsqldb.Row,:int,:int):void\\add(:org.hsqldb.Row):void\\getRow(:int,:org.hsqldb.Table):org.hsqldb.Row\\cleanUp():void\\-remove(:org.hsqldb.Row):void\\-getWorst():org.hsqldb.Row\\-saveAll():void\\-saveSorted(:int):void\\\Un{-sort(:org.hsqldb.Row[],:int,:int):void}\\\Un{-swap(:org.hsqldb.Row[],:int,:int):void}}
\cfin

\ucls{User}{2219}{1782.4}{196}{\hR{java.lang.Object}\\\hB{User}}
\msec{-bAdministrator:boolean\\-hRight:java.util.Hashtable\\-sName:java.lang.String\\-sPassword:java.lang.String\\-uPublic:org.hsqldb.User}
\msec{User(:java.lang.String,:java.lang.String,:boolean)\\getName():java.lang.String\\getPassword():java.lang.String\\getRights():java.util.Hashtable\\setPassword(:java.lang.String):void\\checkPassword(:java.lang.String):void\\grant(:java.lang.String,:int):void\\revoke(:java.lang.String,:int):void\\revokeAll():void\\check(:java.lang.String,:int):void\\checkAdmin():void\\isAdmin():boolean}
\cfin

\ucls{Servlet}{2219}{2321}{196}{\hR{javax.servlet.http.HttpServlet}\\\hB{Servlet}}
\msec{-sError:java.lang.String\\-dDatabase:org.hsqldb.Database\\-sDatabase:java.lang.String\\\Un{-lModified:long}\\\Un{-iQueries:int}}
\msec{+Servlet()\\+Servlet(:java.lang.String)\\init(:java.lang.String):void\\\#getLastModified(:javax.servlet.http.HttpServletRequest)\\+doGet(:javax.servlet.http.HttpServletRequest)\\+doPost(:javax.servlet.http.HttpServletRequest)}
\coordinate (Servlet-bang) at (Servlet-R |- Servlet-cur);
\fill ([xshift=-5.5pt,yshift=-0.5pt]Servlet-bang) rectangle ([xshift=-4pt,yshift=-4pt]Servlet-bang);
\fill ([xshift=-5.5pt,yshift=-5pt]Servlet-bang) rectangle ([xshift=-4pt,yshift=-6.3pt]Servlet-bang);
\msecE{16}
\bangfalse
\cfin
\bangtrue
\draw[line width=0.8pt, blue!60!black, fill=white] ([xshift=-18pt,yshift=14pt]Servlet.south east) rectangle ([xshift=-11pt,yshift=7pt]Servlet.south east);
\draw[line width=0.8pt, blue!60!black, fill=white] ([xshift=-14pt,yshift=10pt]Servlet.south east) rectangle ([xshift=-7pt,yshift=3pt]Servlet.south east);

% ---------------- column 12
\ucls{DatabaseInformation}{2441}{21}{196}{\hR{java.lang.Object}\\\hB{DatabaseInformation}}
\msec{-dDatabase:org.hsqldb.Database\\-aAccess:org.hsqldb.Access\\-tTable:java.util.Vector\\\Un{META\_SCHEM:java.lang.String}\\\Un{META\_CAT:java.lang.String}\\\Un{META\_COLUMN\_SIZE:java.lang.String}\\\Un{META\_BUFFER\_LENGTH:java.lang.String}\\\Un{META\_DECIMAL\_DIGITS:java.lang.String}\\\Un{META\_NUM\_PREC\_RADIX:java.lang.String}\\\Un{META\_FIXED\_PREC\_SCALE:java.lang.String}\\\Un{META\_ORDINAL\_POSITON:java.lang.String}\\\Un{META\_ASC\_OR\_DESC:java.lang.String}}
\msec{DatabaseInformation(:org.hsqldb.Database,:org.hsqldb.Access)\\getSystemTable(:java.lang.String,:org.hsqldb.Channel)\\getScript(:boolean,:boolean,:boolean,:boolean)\\-getColumnList(:org.hsqldb.Table,:int)\\-addRow(:org.hsqldb.Result,:java.lang.String):void\\-createTable(:java.lang.String):org.hsqldb.Table}
\cfin

\ucls{StringConverter}{2389}{420.6}{196}{\hR{java.lang.Object}\\\hB{StringConverter}}
\msec{\Un{-HEXCHAR:char[]}\\\Un{-HEXINDEX:java.lang.String}}
\msec{StringConverter()\\\Un{+hexToByte(:java.lang.String):byte[]}\\\Un{byteToHex(:byte[]):java.lang.String}\\\Un{unicodeToHexString(:java.lang.String):java.lang.String}\\\Un{+hexStringToUnicode(:java.lang.String):java.lang.String}\\\Un{+unicodeToAscii(:java.lang.String):java.lang.String}\\\Un{+asciiToUnicode(:java.lang.String):java.lang.String}\\\Un{+InputStreamToString(:java.io.InputStream):java.lang.String}}
\cfin

\ucls{Result}{2441}{1281.4}{189}{\hR{java.lang.Object}\\\hB{Result}}
\msec{-rTail:org.hsqldb.Record\\-iSize:int\\-iColumnCount:int\\\Un{UPDATECOUNT:int}\\\Un{ERROR:int}\\\Un{DATA:int}\\iMode:int\\sError:java.lang.String\\iUpdateCount:int\\rRoot:org.hsqldb.Record\\sLabel:java.lang.String[]\\sTable:java.lang.String[]\\sName:java.lang.String[]\\iType:int[]}
\msec{Result()\\Result(:java.lang.String)\\Result(:int)\\getSize():int\\setColumnCount(:int):void\\getColumnCount():int\\append(:org.hsqldb.Result):void\\add(:java.lang.Object[]):void\\Result(:byte[])\\getBytes():byte[]\\-prepareData(:int):void}
\cfin

\renewcommand\SepIn{7}
\ucls{jdbcDriver}{2453}{2321}{187}{\hR{java.lang.Object}\\\hR{\textit{java.sql.Driver}}\\\hB{jdbcDriver}}
\msec{\Un{-sStartURL:java.lang.String}\\\Un{MAJOR:int}\\\Un{MINOR:int}\\\Un{VERSION:java.lang.String}\\\Un{PRODUCT:java.lang.String}}
\msec{+jdbcDriver()\\+connect(:java.lang.String,:java.util.Properties)\\+acceptsURL(:java.lang.String):boolean\\+getPropertyInfo(:java.lang.String,:java.util.Properties)\\+jdbcCompliant():boolean}
\msec{\hspace*{3.5pt}majorVersion:int\\\hspace*{3.5pt}minorVersion:int}
\cfin
\acticon{jdbcDriver}
\renewcommand\SepIn{0}

% ---------------- column 13
\ucls{Trace}{2662}{21}{196}{\hR{java.io.PrintWriter}\\\hB{Trace}}
\msec{\Un{+TRACE:boolean}\\\Un{+STOP:boolean}\\\Un{+ASSERT:boolean}\\\Un{-tTracer:org.hsqldb.Trace}\\\Un{-iLine:int}\\\Un{-sTrace:java.lang.String}\\\Un{-iStop:int}\\\Un{DATABASE\_ALREADY\_IN\_USE:int}\\\Un{CONNECTION\_IS\_CLOSED:int}\\\Un{CONNECTION\_IS\_BROKEN:int}\\\Un{DATABASE\_IS\_SHUTDOWN:int}\\\Un{COLUMN\_COUNT\_DOES\_NOT\_MATCH:int}\\\Un{DIVISION\_BY\_ZERO:int}\\\Un{INVALID\_ESCAPE:int}\\\Un{INTEGRITY\_CONSTRAINT\_VIOLATION:int}\\\Un{VIOLATION\_OF\_UNIQUE\_INDEX:int}\\\Un{TRY\_TO\_INSERT\_NULL:int}\\\Un{UNEXPECTED\_TOKEN:int}\\\Un{UNEXPECTED\_END\_OF\_COMMAND:int}\\\Un{UNKNOWN\_FUNCTION:int}\\\Un{NEED\_AGGREGATE:int}\\\Un{SUM\_OF\_NON\_NUMERIC:int}\\\Un{WRONG\_DATA\_TYPE:int}\\\Un{SINGLE\_VALUE\_EXPECTED:int}\\\Un{SERIALIZATION\_FAILURE:int}\\\Un{TRANSFER\_CORRUPTED:int}\\\Un{FUNCTION\_NOT\_SUPPORTED:int}\\\Un{TABLE\_ALREADY\_EXISTS:int}\\\Un{TABLE\_NOT\_FOUND:int}\\\Un{INDEX\_ALREADY\_EXISTS:int}\\\Un{SECOND\_PRIMARY\_KEY:int}\\\Un{DROP\_PRIMARY\_KEY:int}\\\Un{INDEX\_NOT\_FOUND:int}\\\Un{COLUMN\_ALREADY\_EXISTS:int}\\\Un{COLUMN\_NOT\_FOUND:int}\\\Un{FILE\_IO\_ERROR:int}\\\Un{WRONG\_DATABASE\_FILE\_VERSION:int}\\\Un{DATABASE\_IS\_READONLY:int}\\\Un{ACCESS\_IS\_DENIED:int}\\\Un{INPUTSTREAM\_ERROR:int}\\\Un{NO\_DATA\_IS\_AVAILABLE:int}\\\Un{USER\_ALREADY\_EXISTS:int}\\\Un{USER\_NOT\_FOUND:int}\\\Un{ASSERT\_FAILED:int}\\\Un{EXTERNAL\_STOP:int}\\\Un{GENERAL\_ERROR:int}\\\Un{WRONG\_OUT\_PARAMETER:int}\\\Un{ERROR\_IN\_FUNCTION:int}\\\Un{TRIGGER\_NOT\_FOUND:int}\\\Un{-sDescription:java.lang.String[]}}
\msec{\Un{getError(:int,:java.lang.String):java.sql.SQLException}\\\Un{getMessage(:int):java.lang.String}\\\Un{getMessage(:java.sql.SQLException):java.lang.String}\\\Un{getError(:java.lang.String):java.sql.SQLException}\\\Un{error(:int):java.sql.SQLException}\\\Un{error(:int,:java.lang.String):java.sql.SQLException}\\\Un{error(:int,:int):java.sql.SQLException}\\\Un{assert(:boolean):void}\\\Un{assert(:boolean,:java.lang.String):void}\\\Un{check(:boolean,:int):void}\\\Un{check(:boolean,:int,:java.lang.String):void}\\+println(:char[]):void\\Trace()\\\Un{trace(:long):void}\\\Un{trace(:int):void}\\\Un{trace():void}\\\Un{trace(:java.lang.String):void}\\\Un{stop():void}\\\Un{stop(:java.lang.String):void}\\\Un{-printStack():void}\\\Un{-traceCaller(:java.lang.String):void}}
\cfin

\ucls{Column}{2660}{1281}{196}{\hR{java.lang.Object}\\\hB{Column}}
\msec{\Un{-hTypes:java.util.Hashtable}\\\Un{BIT:int}\\\Un{TINYINT:int}\\\Un{BIGINT:int}\\\Un{LONGVARBINARY:int}\\\Un{VARBINARY:int}\\\Un{BINARY:int}\\\Un{LONGVARCHAR:int}\\\Un{CHAR:int}\\\Un{NUMERIC:int}\\\Un{DECIMAL:int}\\\Un{INTEGER:int}\\\Un{SMALLINT:int}\\\Un{FLOAT:int}\\\Un{REAL:int}\\\Un{DOUBLE:int}\\\Un{VARCHAR:int}\\\Un{DATE:int}\\\Un{TIME:int}\\\Un{TIMESTAMP:int}\\\Un{OTHER:int}\\\Un{NULL:int}\\\Un{VARCHAR\_IGNORECASE:int}\\\Un{TYPES:int[]}\\sName:java.lang.String\\iType:int\\-bNullable:boolean\\-bIdentity:boolean}
\msec{\Un{-addTypes(:int,:java.lang.String,:java.lang.String)}\\\Un{-addType(:int,:java.lang.String):void}\\Column(:java.lang.String,:boolean,:int,:boolean)\\isIdentity():boolean\\\Un{getTypeNr(:java.lang.String):int}\\\Un{getType(:int):java.lang.String}\\isNullable():boolean\\\Un{add(:java.lang.Object,:java.lang.Object,:int)}\\\Un{concat(:java.lang.Object,:java.lang.Object)}\\\Un{negate(:java.lang.Object,:int):java.lang.Object}\\\Un{multiply(:java.lang.Object,:java.lang.Object,:int)}\\\Un{divide(:java.lang.Object,:java.lang.Object,:int)}\\\Un{subtract(:java.lang.Object,:java.lang.Object,:int)}\\\Un{sum(:java.lang.Object,:java.lang.Object,:int)}\\\Un{avg(:java.lang.Object,:int,:int):java.lang.Object}\\\Un{min(:java.lang.Object,:java.lang.Object,:int)}\\\Un{max(:java.lang.Object,:java.lang.Object,:int)}\\\Un{compare(:java.lang.Object,:java.lang.Object,:int)}\\\Un{convertString(:java.lang.Object,:int):java.lang.String}\\\Un{convertObject(:java.lang.Object):java.lang.Object}\\\Un{convertObject(:java.lang.Object,:int):java.lang.Object}\\\Un{createString(:java.lang.Object,:int):java.lang.String}\\\Un{createString(:java.lang.String):java.lang.String}\\\Un{readData(:java.io.DataInput,:int):java.lang.Object[]}\\\Un{writeData(:java.io.DataOutput,:java.lang.Object[])}\\\Un{writeData(:java.io.DataOutput,:int,:int[])}\\\Un{getSize(:java.lang.Object[],:org.hsqldb.Table):int}\\\Un{-getSize(:java.lang.Object[],:int,:int[]):int}\\\Un{-getUTFsize(:java.lang.String):int}}
\cfin

\ucls{Node}{2662}{2541}{196}{\hR{java.lang.Object}\\\hB{Node}}
\msec{iBalance:int\\iLeft:int\\iRight:int\\iParent:int\\nLeft:org.hsqldb.Node\\nRight:org.hsqldb.Node\\nParent:org.hsqldb.Node\\-iId:int\\nNext:org.hsqldb.Node\\rData:org.hsqldb.Row}
\msec{Node(:org.hsqldb.Row,:java.io.DataInput,:int)\\Node(:org.hsqldb.Row,:int)\\delete():void\\getKey():int\\getLeft():org.hsqldb.Node\\setLeft(:org.hsqldb.Node):void\\getRight():org.hsqldb.Node\\setRight(:org.hsqldb.Node):void\\getParent():org.hsqldb.Node\\setParent(:org.hsqldb.Node):void\\getBalance():int\\setBalance(:int):void\\+getData():java.lang.Object[]\\equals(:org.hsqldb.Node):boolean\\write(:java.io.DataOutput):void}
\cfin

% ---------------- column 14
\ucls{jdbcConnection}{2884}{21}{196}{\hR{java.lang.Object}\\\hR{\textit{java.sql.Connection}}\\\hB{jdbcConnection}}
\msec{-bClosed:boolean\\-bAutoCommit:boolean\\-sDatabaseName:java.lang.String\\\Un{-HTTP:int}\\\Un{-STANDALONE:int}\\\Un{-INTERNAL:int}\\\Un{-HSQL:int}\\-iType:int\\-dDatabase:org.hsqldb.Database\\-cChannel:org.hsqldb.Channel\\sSocket:java.net.Socket\\dOutput:java.io.DataOutputStream\\dInput:java.io.DataInputStream\\\Un{+DEFAULT\_HSQL\_PORT:int}\\\Un{-tDatabase:java.util.Hashtable}\\\Un{-iUsageCount:java.util.Hashtable}\\-sConnect:java.lang.String\\-sUser:java.lang.String\\-sPassword:java.lang.String\\\Un{ENCODING:java.lang.String}}
\msec{+createStatement():java.sql.Statement\\+prepareStatement(:java.lang.String):java.sql.PreparedStatement\\+prepareCall(:java.lang.String):java.sql.CallableStatement\\+nativeSQL(:java.lang.String):java.lang.String\\+setAutoCommit(:boolean):void\\+getAutoCommit():boolean\\+commit():void\\+rollback():void\\+close():void\\+isClosed():boolean\\+getMetaData():java.sql.DatabaseMetaData\\+setReadOnly(:boolean):void\\+isReadOnly():boolean\\+setCatalog(:java.lang.String):void\\+getCatalog():java.lang.String\\+setTransactionIsolation(:int):void\\+getTransactionIsolation():int\\+getWarnings():java.sql.SQLWarning\\+clearWarnings():void\\+createStatement(:int,:int):java.sql.Statement\\+prepareStatement(:java.lang.String,:int,:int)\\+prepareCall(:java.lang.String,:int,:int)\\+getTypeMap():java.util.Map\\+setTypeMap(:java.util.Map):void\\jdbcConnection(:java.lang.String,:java.lang.String)\\jdbcConnection(:org.hsqldb.Channel)\\execute(:java.lang.String):org.hsqldb.Result\\usesLocalFiles():boolean\\getName():java.lang.String\\-openHTTP(:java.lang.String,:java.lang.String)\\-executeHTTP(:java.lang.String):org.hsqldb.Result\\-openHSQL(:java.lang.String,:java.lang.String)\\-reconnectHSQL():void\\-executeHSQL(:java.lang.String):org.hsqldb.Result\\-openStandalone(:java.lang.String,:java.lang.String)\\+finalize():void\\-closeStandalone():void\\-executeStandalone(:java.lang.String):org.hsqldb.Result}
\cfin

\ucls{Channel}{2883}{1281}{196}{\hR{java.lang.Object}\\\hB{Channel}}
\msec{-dDatabase:org.hsqldb.Database\\-uUser:org.hsqldb.User\\-tTransaction:java.util.Vector\\-bAutoCommit:boolean\\-bNestedTransaction:boolean\\-bNestedOldAutoCommit:boolean\\-iNestedOldTransIndex:int\\-bReadOnly:boolean\\-iMaxRows:int\\-iLastIdentity:int\\-bClosed:boolean\\-iId:int}
\msec{+finalize():void\\Channel(:org.hsqldb.Channel,:int)\\Channel(:org.hsqldb.Database,:org.hsqldb.User)\\getId():int\\disconnect():void\\isClosed():boolean\\setLastIdentity(:int):void\\getLastIdentity():int\\getDatabase():org.hsqldb.Database\\getUsername():java.lang.String\\setUser(:org.hsqldb.User):void\\checkAdmin():void\\check(:java.lang.String,:int):void\\checkReadWrite():void\\setPassword(:java.lang.String):void\\addTransactionDelete(:org.hsqldb.Table,:java.lang.Object[])\\addTransactionInsert(:org.hsqldb.Table,:java.lang.Object[])\\setAutoCommit(:boolean):void\\commit():void\\rollback():void\\beginNestedTransaction():void\\endNestedTransaction(:boolean):void\\setReadOnly(:boolean):void\\isReadOnly():boolean\\setMaxRows(:int):void\\getMaxRows():int\\isNestedTransaction():boolean}
\cfin

\ucls{Constraint}{2883}{2021}{196}{\hR{java.lang.Object}\\\hB{Constraint}}
\msec{\Un{FOREIGN\_KEY:int}\\\Un{MAIN:int}\\\Un{UNIQUE:int}\\-iType:int\\-iLen:int\\-tMain:org.hsqldb.Table\\-iColMain:int[]\\-iMain:org.hsqldb.Index\\-oMain:java.lang.Object[]\\-tRef:org.hsqldb.Table\\-iColRef:int[]\\-iRef:org.hsqldb.Index\\-oRef:java.lang.Object[]}
\msec{Constraint(:int,:org.hsqldb.Table,:int[])\\Constraint(:int,:org.hsqldb.Table,:org.hsqldb.Table)\\getType():int\\getMain():org.hsqldb.Table\\getRef():org.hsqldb.Table\\getMainColumns():int[]\\getRefColumns():int[]\\replaceTable(:org.hsqldb.Table,:org.hsqldb.Table)\\checkInsert(:java.lang.Object[]):void\\checkDelete(:java.lang.Object[]):void\\checkUpdate(:int[],:org.hsqldb.Result,:int)\\-isAffected(:int[],:int[],:int):boolean}
\cfin

% ---------------- column 15
\ucls{Tokenizer}{3106}{21}{196}{\hR{java.lang.Object}\\\hB{Tokenizer}}
\msec{\Un{-NAME:int}\\\Un{-LONG\_NAME:int}\\\Un{-SPECIAL:int}\\\Un{-NUMBER:int}\\\Un{-FLOAT:int}\\\Un{-STRING:int}\\\Un{-LONG:int}\\\Un{-QUOTED\_IDENTIFIER:int}\\\Un{-REMARK\_LINE:int}\\\Un{-REMARK:int}\\-sCommand:java.lang.String\\-cCommand:char[]\\-iLength:int\\-oValue:java.lang.Object\\-iIndex:int\\-iType:int\\-sToken:java.lang.String\\-sLongNameFirst:java.lang.String\\-sLongNameLast:java.lang.String\\-bWait:boolean\\\Un{-hKeyword:java.util.Hashtable}}
\msec{Tokenizer(:java.lang.String)\\back():void\\getThis(:java.lang.String):void\\getStringToken():java.lang.String\\wasValue():boolean\\wasLongName():boolean\\wasName():boolean\\getLongNameFirst():java.lang.String\\getLongNameLast():java.lang.String\\getName():java.lang.String\\getString():java.lang.String\\getType():int\\getAsValue():java.lang.Object\\getPosition():int\\getPart(:int,:int):java.lang.String\\-getToken():void}
\cfin

\ucls{ByteArray}{3105}{1083}{196}{\hR{java.lang.Object}\\\hB{ByteArray}}
\msec{-data:byte[]}
\msec{ByteArray(:java.lang.String)\\ByteArray(:byte[])\\byteValue():byte[]\\compareTo(:org.hsqldb.ByteArray):int\\\Un{serialize(:java.lang.Object):byte[]}\\\Un{serializeToString(:java.lang.Object):java.lang.String}\\deserialize():java.lang.Object\\\Un{createString(:byte[]):java.lang.String}\\+toString():java.lang.String\\+hashCode():int}
\cfin

\ucls{Table}{3105}{1381.7}{196}{\hR{java.lang.Object}\\\hB{Table}}
\msec{-sName:java.lang.String\\-vColumn:java.util.Vector\\-vIndex:java.util.Vector\\-iVisibleColumns:int\\-iColumnCount:int\\-iPrimaryKey:int\\-bCached:boolean\\-dDatabase:org.hsqldb.Database\\-lLog:org.hsqldb.Log\\-iIndexCount:int\\-iIdentityColumn:int\\-iIdentityId:int\\-vConstraint:java.util.Vector\\-iConstraintCount:int\\cCache:org.hsqldb.Cache\\vTrigs:java.util.Vector[]}
\msec{Table(:org.hsqldb.Database,:boolean,:java.lang.String)\\addConstraint(:org.hsqldb.Constraint):void\\getConstraints():java.util.Vector\\addColumn(:java.lang.String,:int):void\\addColumn(:org.hsqldb.Column):void\\addColumn(:java.lang.String,:int,:boolean)\\addColumns(:org.hsqldb.Result):void\\getName():java.lang.String\\getInternalColumnCount():int\\moveDefinition(:java.lang.String):org.hsqldb.Table\\getColumnCount():int\\getIndexCount():int\\getIdentityColumn():int\\getColumnNr(:java.lang.String):int\\searchColumn(:java.lang.String):int\\getColumnName(:int):java.lang.String\\getColumnType(:int):int\\getColumnIsNullable(:int):boolean\\getPrimaryIndex():org.hsqldb.Index\\getIndexForColumn(:int):org.hsqldb.Index\\getIndexForColumns(:int[]):org.hsqldb.Index\\getIndexRoots():java.lang.String\\setIndexRoots(:java.lang.String):void\\getNextIndex(:org.hsqldb.Index):org.hsqldb.Index\\getType(:int):int\\createPrimaryKey(:int):void\\createPrimaryKey():void\\createIndex(:org.hsqldb.Index):void\\createIndex(:int[],:java.lang.String,:boolean)\\checkDropIndex(:java.lang.String):void\\isEmpty():boolean\\getNewRow():java.lang.Object[]\\moveData(:org.hsqldb.Table):void\\checkUpdate(:int[],:org.hsqldb.Result):void\\insert(:org.hsqldb.Result,:org.hsqldb.Channel)\\insert(:java.lang.Object[],:org.hsqldb.Channel)\\insertNoCheck(:java.lang.Object[],:org.hsqldb.Channel)\\insertNoCheck(:java.lang.Object[],:org.hsqldb.Channel)\\fireAll(:int,:java.lang.Object[]):void\\fireAll(:int):void\\addTrigger(:org.hsqldb.TriggerDef):void\\delete(:java.lang.Object[],:org.hsqldb.Channel)\\deleteNoCheck(:java.lang.Object[],:org.hsqldb.Channel)\\deleteNoCheck(:java.lang.Object[],:org.hsqldb.Channel)\\getInsertStatement(:java.lang.Object[]):java.lang.String\\isCached():boolean\\getIndex(:java.lang.String):org.hsqldb.Index\\getColumn(:int):org.hsqldb.Column\\-getIndex(:int):org.hsqldb.Index\\-getDeleteStatement(:java.lang.Object[]):java.lang.String}
\cfin

\end{tikzpicture}
\end{document}
